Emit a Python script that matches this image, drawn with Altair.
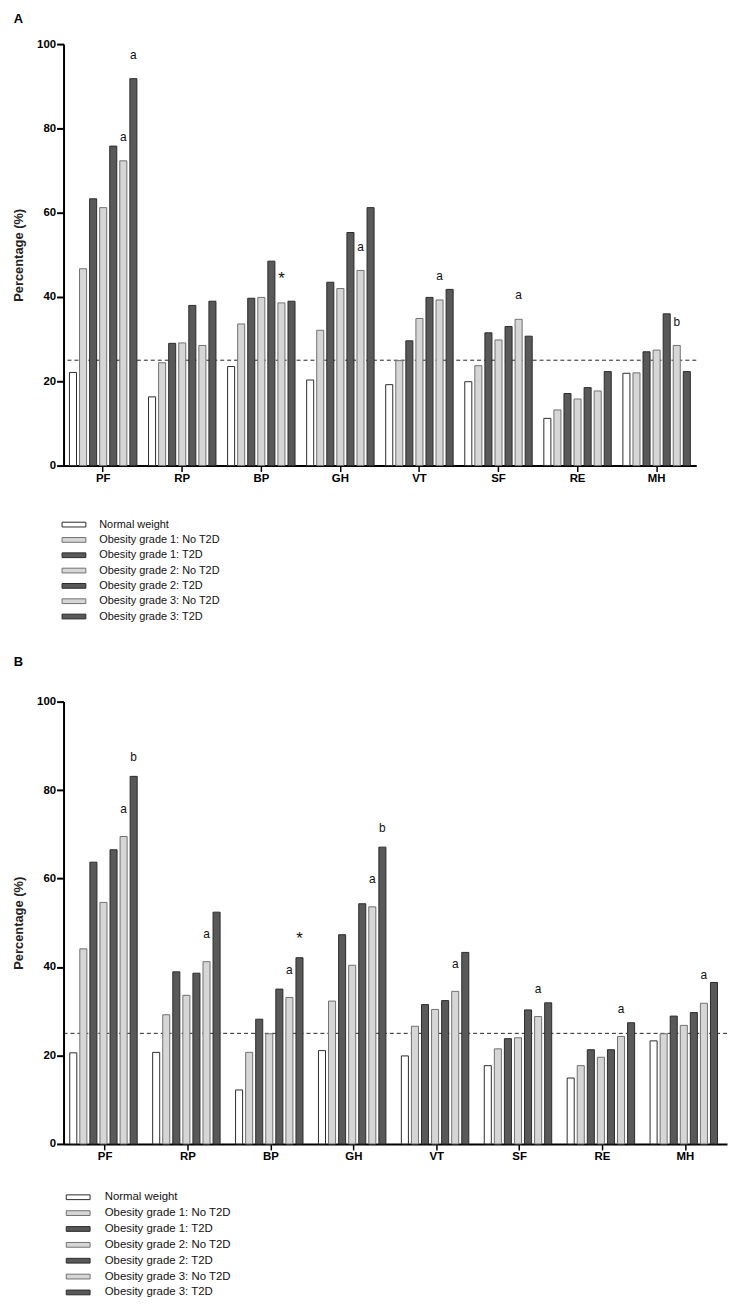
import altair as alt
import pandas as pd

categories = ["PF", "RP", "BP", "GH", "VT", "SF", "RE", "MH"]
groups = [
    "Normal weight",
    "Obesity grade 1: No T2D",
    "Obesity grade 1: T2D",
    "Obesity grade 2: No T2D",
    "Obesity grade 2: T2D",
    "Obesity grade 3: No T2D",
    "Obesity grade 3: T2D",
]

# Panel A values (percentage)
a_normal = [22.1, 16.3, 23.5, 20.3, 19.2, 19.9, 11.2, 21.9]
a_ob1_no = [46.7, 24.4, 33.6, 32.1, 24.9, 23.7, 13.2, 22.0]
a_ob1_t2d = [63.3, 29.0, 39.7, 43.5, 29.6, 31.5, 17.1, 27.0]
a_ob2_no = [61.2, 29.1, 39.9, 42.0, 34.9, 29.8, 15.8, 27.4]
a_ob2_t2d = [75.8, 38.0, 48.5, 55.3, 39.9, 33.0, 18.5, 36.0]
a_ob3_no = [72.3, 28.5, 38.6, 46.3, 39.3, 34.7, 17.7, 28.5]
a_ob3_t2d = [91.8, 39.0, 39.0, 61.2, 41.8, 30.7, 22.3, 22.3]

# Panel B values (percentage)
b_normal = [20.6, 20.7, 12.2, 21.1, 19.9, 17.7, 14.9, 23.3]
b_ob1_no = [44.1, 29.2, 20.7, 32.3, 26.6, 21.5, 17.7, 24.9]
b_ob1_t2d = [63.7, 38.9, 28.2, 47.3, 31.5, 23.8, 21.3, 28.9]
b_ob2_no = [54.6, 33.6, 24.9, 40.4, 30.4, 24.0, 19.6, 26.8]
b_ob2_t2d = [66.5, 38.6, 35.0, 54.3, 32.4, 30.3, 21.3, 29.7]
b_ob3_no = [69.5, 41.2, 33.1, 53.6, 34.5, 28.8, 24.3, 31.8]
b_ob3_t2d = [83.1, 52.4, 42.1, 67.1, 43.3, 31.9, 27.4, 36.5]

reference_line = [25]

# significance marks: (category, group, label)
a_marks = [
    ("PF", "Obesity grade 3: No T2D", "a"),
    ("PF", "Obesity grade 3: T2D", "a"),
    ("BP", "Obesity grade 3: No T2D", "*"),
    ("GH", "Obesity grade 3: No T2D", "a"),
    ("VT", "Obesity grade 3: No T2D", "a"),
    ("SF", "Obesity grade 3: No T2D", "a"),
    ("MH", "Obesity grade 3: No T2D", "b"),
]
b_marks = [
    ("PF", "Obesity grade 3: No T2D", "a"),
    ("PF", "Obesity grade 3: T2D", "b"),
    ("RP", "Obesity grade 3: No T2D", "a"),
    ("BP", "Obesity grade 3: No T2D", "a"),
    ("BP", "Obesity grade 3: T2D", "*"),
    ("GH", "Obesity grade 3: No T2D", "a"),
    ("GH", "Obesity grade 3: T2D", "b"),
    ("VT", "Obesity grade 3: No T2D", "a"),
    ("SF", "Obesity grade 3: No T2D", "a"),
    ("RE", "Obesity grade 3: No T2D", "a"),
    ("MH", "Obesity grade 3: No T2D", "a"),
]

fills = ["#ffffff", "#d6d6d6", "#595959", "#d6d6d6", "#595959", "#d6d6d6", "#595959"]
strokes = ["#2b2b2b", "#707070", "#2b2b2b", "#707070", "#2b2b2b", "#707070", "#2b2b2b"]

FONT = "Liberation Sans"


def make_df(series):
    rows = []
    for g, vals in zip(groups, series):
        for c, v in zip(categories, vals):
            rows.append({"category": c, "group": g, "value": v})
    return pd.DataFrame(rows)


def make_ann(df, marks):
    rows = []
    for c, g, lab in marks:
        v = df[(df.category == c) & (df.group == g)].value.iloc[0]
        rows.append({"category": c, "group": g, "value": v, "label": lab,
                     "last": bool(g == groups[-1])})
    return pd.DataFrame(rows)


df_a = make_df([a_normal, a_ob1_no, a_ob1_t2d, a_ob2_no, a_ob2_t2d, a_ob3_no, a_ob3_t2d])
df_b = make_df([b_normal, b_ob1_no, b_ob1_t2d, b_ob2_no, b_ob2_t2d, b_ob3_no, b_ob3_t2d])
ann_a = make_ann(df_a, a_marks)
ann_b = make_ann(df_b, b_marks)

SYMBOL = "M-2.4,-0.48 L2.4,-0.48 L2.4,0.48 L-2.4,0.48 Z"


def panel(df, ann, letter, width, height, legend_x, legend_y, row_pad, legend_font,
          label_offset, dy_no, dy_last, title_offset):
    x = alt.X("category:N", sort=categories,
              scale=alt.Scale(domain=categories, paddingInner=0.147, paddingOuter=0.075),
              axis=alt.Axis(title=None, labelAngle=0, labelFontSize=11.5, labelFontWeight="bold",
                            labelColor="#000", domainColor="#000", domainWidth=2,
                            tickColor="#000", tickWidth=1.5, tickSize=6, labelPadding=1))
    xo = alt.XOffset("group:N", sort=groups,
                     scale=alt.Scale(domain=groups, paddingInner=0.3, paddingOuter=0))
    y = alt.Y("value:Q", scale=alt.Scale(domain=[0, 100], nice=False),
              axis=alt.Axis(title="Percentage (%)", values=[0, 20, 40, 60, 80, 100],
                            labelFontSize=11.5, labelFontWeight="bold", labelColor="#000",
                            titleFontSize=13, titleFontWeight="bold", titleColor="#222",
                            titlePadding=11, domainColor="#000", domainWidth=2,
                            tickColor="#000", tickWidth=2, tickSize=7,
                            labelPadding=1, grid=False))
    leg = alt.Legend(title=None, orient="none", legendX=legend_x, legendY=legend_y,
                     direction="vertical", symbolType=SYMBOL, symbolSize=100,
                     symbolStrokeWidth=1, labelFontSize=legend_font, labelColor="#111",
                     labelOffset=label_offset, rowPadding=row_pad, labelLimit=300)
    bars = alt.Chart(df).mark_bar(strokeWidth=1).encode(
        x=x, xOffset=xo, y=y,
        fill=alt.Fill("group:N", sort=groups, scale=alt.Scale(domain=groups, range=fills), legend=leg),
        stroke=alt.Stroke("group:N", sort=groups, scale=alt.Scale(domain=groups, range=strokes), legend=leg),
    )
    rule = alt.Chart(pd.DataFrame({"value": reference_line})).mark_rule(
        color="#222", strokeDash=[4, 3], strokeWidth=1).encode(y="value:Q")
    size_cond = alt.condition("datum.label == '*'", alt.value(17), alt.value(12))
    weight_txt = dict(font=FONT, color="#111")
    txt_no = alt.Chart(ann).transform_filter("!datum.last").mark_text(
        dy=dy_no, **weight_txt).encode(
        x=x, xOffset=xo, y="value:Q", text="label:N", size=size_cond)
    txt_last = alt.Chart(ann).transform_filter("datum.last").mark_text(
        dy=dy_last, **weight_txt).encode(
        x=x, xOffset=xo, y="value:Q", text="label:N", size=size_cond)
    return alt.layer(rule, bars, txt_no, txt_last).properties(
        width=width, height=height,
        title=alt.TitleParams(letter, anchor="start", frame="bounds", fontSize=13,
                              fontWeight="bold", offset=title_offset, dx=1, color="#000"),
    )


pA = panel(df_a, ann_a, "A", 638, 425, 5, 479, 3.45, 11, 20, -24, -24, 12)
pB = panel(df_b, ann_b, "B", 669, 446, 9, 494, 3.0, 11.5, 21, -28, -19, 27)

chart = alt.vconcat(pA, pB, spacing=34).resolve_legend(
    fill="independent", stroke="independent"
).resolve_scale(fill="independent", stroke="independent").properties(
    padding={"left": 4, "top": 0, "right": 0, "bottom": 0}
).configure(font=FONT).configure_view(stroke=None)

chart.save("out.html", embed_options={"renderer": "svg", "actions": False})
